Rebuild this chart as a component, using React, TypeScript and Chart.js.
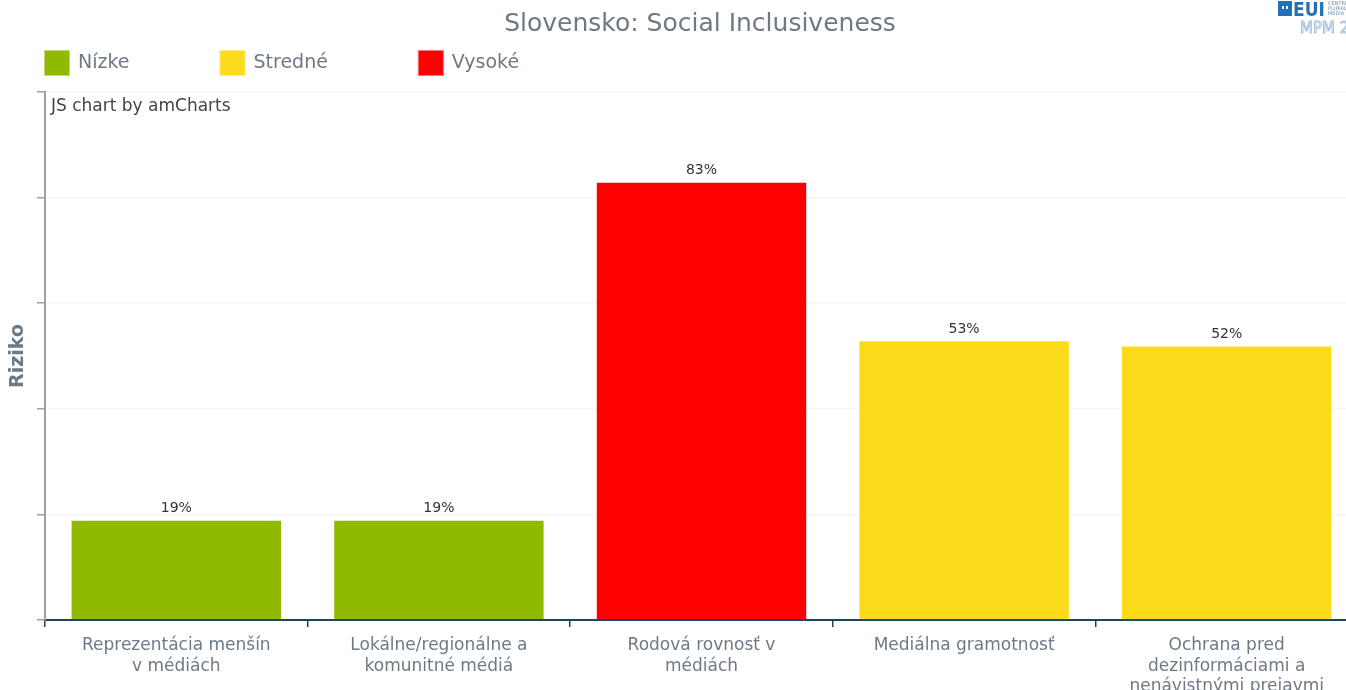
import React, { useEffect, useRef } from "react";
import { Chart, registerables } from "chart.js";

Chart.register(...registerables);

const FONT = '"DejaVu Sans", Verdana, sans-serif';

const chartTitle = "Slovensko: Social Inclusiveness";
const categories: string[][] = [
  ["Reprezentácia menšín", "v médiách"],
  ["Lokálne/regionálne a", "komunitné médiá"],
  ["Rodová rovnosť v", "médiách"],
  ["Mediálna gramotnosť"],
  ["Ochrana pred", "dezinformáciami a", "nenávistnými prejavmi"],
];
const riskValues = [19, 19, 83, 53, 52];
const riskLevels = ["Nízke", "Stredné", "Vysoké"];
const levelColors = ["#8FBA00", "#FCDB1A", "#FF0000"];
const barLevel = [0, 0, 2, 1, 1];
const yMin = 0;
const yMax = 100;
const yStep = 20;
const yAxisTitle = "Riziko";
const watermark = "JS chart by amCharts";

const TEXT_GRAY = "#6d7a86";

const overlayPlugin = {
  id: "overlay",
  afterDatasetsDraw(chart: any) {
    const ctx = chart.ctx as CanvasRenderingContext2D;
    const area = chart.chartArea;
    ctx.save();
    // data labels
    const meta = chart.getDatasetMeta(0);
    ctx.font = `14px ${FONT}`;
    ctx.fillStyle = "#333333";
    ctx.textAlign = "center";
    ctx.textBaseline = "bottom";
    meta.data.forEach((bar: any, i: number) => {
      ctx.fillText(`${riskValues[i]}%`, bar.x, bar.y - 4);
    });
    // watermark
    ctx.font = `17px ${FONT}`;
    ctx.fillStyle = "#444444";
    ctx.textAlign = "left";
    ctx.textBaseline = "middle";
    ctx.fillText(watermark, area.left + 6, area.top + 15);
    ctx.restore();
  },
  afterDraw(chart: any) {
    const ctx = chart.ctx as CanvasRenderingContext2D;
    ctx.save();
    // title
    ctx.font = `25px ${FONT}`;
    ctx.fillStyle = TEXT_GRAY;
    ctx.textAlign = "center";
    ctx.textBaseline = "middle";
    ctx.fillText(chartTitle, 700, 24);
    // legend
    ctx.font = `19px ${FONT}`;
    ctx.textAlign = "left";
    let x = 44;
    riskLevels.forEach((lbl, i) => {
      ctx.fillStyle = levelColors[i];
      ctx.fillRect(x, 50, 26, 26);
      ctx.strokeStyle = "rgba(255,255,255,0.45)";
      ctx.lineWidth = 1;
      ctx.strokeRect(x + 0.5, 50.5, 25, 25);
      ctx.fillStyle = TEXT_GRAY;
      ctx.fillText(lbl, x + 34, 63);
      x += 34 + ctx.measureText(lbl).width + 90;
    });
    // logo (approximation)
    ctx.fillStyle = "#1f72b8";
    ctx.fillRect(1278, 1, 14, 15);
    ctx.fillStyle = "#ffffff";
    ctx.fillRect(1282, 6, 2, 3);
    ctx.fillRect(1286, 6, 2, 3);
    ctx.fillStyle = "#1f72b8";
    ctx.font = `bold 19px "DejaVu Sans Condensed", ${FONT}`;
    ctx.textBaseline = "alphabetic";
    ctx.fillText("EUI", 1293, 16);
    ctx.font = `5px ${FONT}`;
    ctx.fillStyle = "#6f8fb0";
    ctx.fillText("CENTRE", 1328, 5);
    ctx.fillText("PLURALI", 1328, 10);
    ctx.fillText("MEDIA", 1328, 15);
    ctx.font = `15px ${FONT}`;
    ctx.strokeStyle = "#a9c6e4";
    ctx.lineWidth = 1;
    ctx.strokeText("MPM 2022", 1300, 33);
    ctx.restore();
  },
};

export default function App() {
  const ref = useRef<HTMLCanvasElement | null>(null);
  useEffect(() => {
    if (!ref.current) return;
    const chart = new Chart(ref.current, {
      type: "bar",
      data: {
        labels: categories,
        datasets: [
          {
            data: riskValues,
            backgroundColor: barLevel.map((l) => levelColors[l]),
            borderColor: "rgba(255,255,255,0.35)",
            borderWidth: 1,
            categoryPercentage: 1,
            barPercentage: 0.805,
          },
        ],
      },
      options: {
        responsive: false,
        animation: false,
        devicePixelRatio: 1,
        layout: { padding: { top: 92, left: 0, right: 0, bottom: 0 } },
        plugins: {
          legend: { display: false },
          title: { display: false },
          tooltip: { enabled: false },
        },
        scales: {
          x: {
            type: "category",
            offset: true,
            z: 1,
            grid: {
              offset: true,
              drawOnChartArea: false,
              drawTicks: true,
              tickLength: 7,
              color: "#1b4561",
              lineWidth: 1.5,
            },
            border: { color: "#1b4561", width: 2 },
            ticks: {
              color: TEXT_GRAY,
              font: { family: FONT, size: 17, lineHeight: 1.18 },
              padding: 9,
              maxRotation: 0,
              minRotation: 0,
              autoSkip: false,
            },
            afterFit: (s: any) => {
              s.height = 100;
            },
          },
          y: {
            min: yMin,
            max: yMax,
            z: 1,
            ticks: { stepSize: yStep, display: false },
            grid: {
              color: "rgba(232,232,232,0.45)",
              tickColor: "#9aa0a6",
              tickLength: 8,
              lineWidth: 1.5,
            },
            border: { color: "#9aa0a6", width: 2 },
            title: {
              display: true,
              text: yAxisTitle,
              color: TEXT_GRAY,
              font: { family: FONT, size: 19, weight: "bold" },
              padding: { top: 7, bottom: 0 },
            },
            afterFit: (s: any) => {
              s.width = 45;
            },
          },
        },
      },
      plugins: [overlayPlugin],
    } as any);
    return () => chart.destroy();
  }, []);
  return (
    <div
      style={{
        position: "fixed",
        left: 0,
        top: 0,
        width: 1346,
        height: 690,
        overflow: "hidden",
        background: "#ffffff",
      }}
    >
      <canvas ref={ref} width={1358} height={720} style={{ display: "block" }} />
    </div>
  );
}
